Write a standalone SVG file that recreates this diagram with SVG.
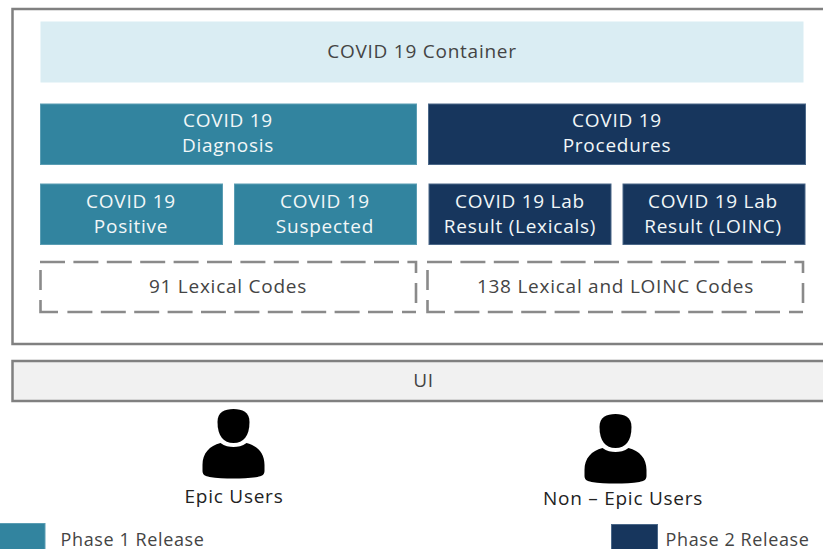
<svg xmlns="http://www.w3.org/2000/svg" width="823" height="549" viewBox="0 0 823 549">
<style>
text{font-family:"Open Sans","Noto Sans","Liberation Sans",sans-serif;font-size:19px;letter-spacing:.75px;text-anchor:middle}
.w{fill:#f2f7f8}.d{fill:#444}.k{fill:#222}
text.l{font-size:18px;letter-spacing:.6px}
.t{fill:#32849f;stroke:#5a9db3;stroke-width:1}
.n{fill:#17365d;stroke:#4a6788;stroke-width:1}
.dash{fill:none;stroke:#8a8a8a;stroke-width:2.6}
</style>
<defs>
<g id="person" fill="#000">
<path d="M-16 13C-16 3 -9 0 0 0C9 0 16 3 16 13C16 27 10 34 0 34C-10 34 -16 27 -16 13Z"/>
<path d="M-13 34C-9 37 -4 38 0 38C4 38 9 37 13 34C24 37 31 44 31 56L31 62C31 66 28 67 24 68C10 70 -10 70 -24 68C-28 67 -31 66 -31 62L-31 56C-31 44 -24 37 -13 34Z"/>
</g>
<path id="dashes" d="M40 262H65M73.400 262H98.400M106.800 262H131.800M140.200 262H165.200M173.600 262H198.600M207 262H232M240.400 262H265.400M273.800 262H298.800M307.200 262H332.200M340.600 262H365.600M374 262H399M407.400 262H416V273M416 283V303M416 312H402M393 312H368M359.600 312H334.600M326.200 312H301.200M292.800 312H267.800M259.400 312H234.400M226 312H201M192.600 312H167.600M159.200 312H134.200M125.800 312H100.800M92.400 312H67.400M58 312H40.500V300M40.500 290V270"/>
</defs>
<rect width="823" height="549" fill="#fff"/>
<g id="outer"><path d="M830 9H12.500V344H830" fill="#fff" stroke="#808080" stroke-width="2.500"/></g>
<g id="container"><rect x="40.500" y="21.500" width="763" height="61" fill="#daedf3"/><text class="d" x="422" y="58">COVID 19 Container</text></g>
<g id="diagnosis"><rect class="t" x="40.500" y="104" width="376" height="60.500"/><text class="w" x="228" y="127">COVID 19</text><text class="w" x="228" y="152">Diagnosis</text></g>
<g id="procedures"><rect class="n" x="428.500" y="104" width="377" height="60.500"/><text class="w" x="617" y="127">COVID 19</text><text class="w" x="617" y="152">Procedures</text></g>
<g id="positive"><rect class="t" x="40.500" y="184" width="182" height="60.500"/><text class="w" x="131" y="208">COVID 19</text><text class="w" x="131" y="233">Positive</text></g>
<g id="suspected"><rect class="t" x="234.500" y="184" width="182" height="60.500"/><text class="w" x="325" y="208">COVID 19</text><text class="w" x="325" y="233">Suspected</text></g>
<g id="lab-lexicals"><rect class="n" x="429" y="184" width="182" height="60.500"/><text class="w" x="520" y="208">COVID 19 Lab</text><text class="w" x="520" y="233">Result (Lexicals)</text></g>
<g id="lab-loinc"><rect class="n" x="623" y="184" width="182" height="60.500"/><text class="w" x="713" y="208">COVID 19 Lab</text><text class="w" x="713" y="233">Result (LOINC)</text></g>
<g id="lexical-codes"><use href="#dashes" class="dash"/><text class="d" x="228" y="293">91 Lexical Codes</text></g>
<g id="loinc-codes"><use href="#dashes" class="dash" x="387"/><text class="d" x="615.500" y="293">138 Lexical and LOINC Codes</text></g>
<g id="ui"><rect x="12.500" y="361" width="820" height="40" fill="#f1f1f1" stroke="#808080" stroke-width="2.500"/><text class="d" x="423.500" y="387">UI</text></g>
<g id="epic-users"><use href="#person" x="233.500" y="409"/><text class="k" x="234" y="503">Epic Users</text></g>
<g id="non-epic-users"><use href="#person" x="615.500" y="414"/><text class="k" x="623" y="505">Non – Epic Users</text></g>
<g id="phase-1"><rect class="t" x="-2" y="523.500" width="47" height="30"/><text class="d l" x="132.500" y="545.500">Phase 1 Release</text></g>
<g id="phase-2"><rect class="n" x="611.500" y="524.500" width="46" height="30"/><text class="d l" x="737.500" y="545.500">Phase 2 Release</text></g>
<g id="connectors"/>
</svg>
